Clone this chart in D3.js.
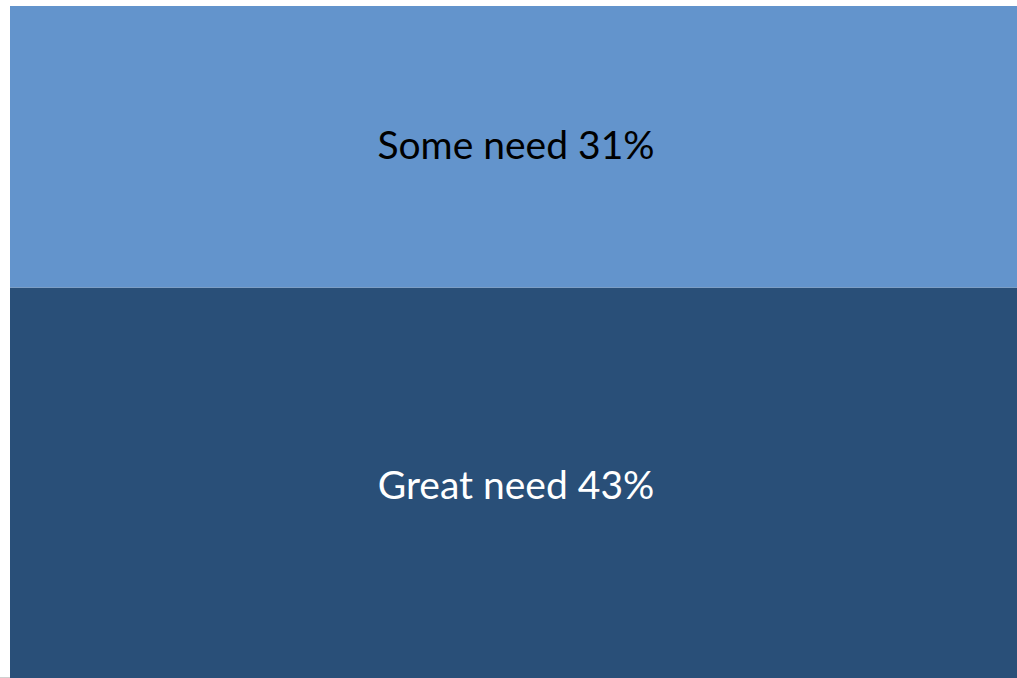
<!DOCTYPE html>
<html><head><meta charset="utf-8">
<script src="https://cdn.jsdelivr.net/npm/d3@7"></script>
<style>html,body{margin:0;padding:0;background:#fff;overflow:hidden}</style>
</head><body>
<svg id="chart" width="1017" height="678"></svg>
<script>
const categories = ["Great need", "Some need"];
const values = [43, 31];
const colors = ["#294F78", "#6394CC"];
const textColors = ["#ffffff", "#000000"];

const svg = d3.select("#chart");
const x = d3.scaleBand().domain(["All"]).range([10, 1024]).padding(0);
const total = d3.sum(values);
const y = d3.scaleLinear().domain([0, total]).range([678, 6]);

let acc = 0;
const segs = categories.map((c, i) => {
  const s = {cat: c, v: values[i], y0: acc, y1: acc + values[i], i};
  acc += values[i];
  return s;
});

svg.selectAll("rect.seg").data(segs).enter().append("rect")
  .attr("class", "seg")
  .attr("x", x("All")).attr("width", x.bandwidth())
  .attr("y", d => y(d.y1)).attr("height", d => y(d.y0) - y(d.y1))
  .attr("fill", d => colors[d.i]);

const baseOff = [16.5, 12.5];
svg.selectAll("text.lbl").data(segs).enter().append("text")
  .attr("class", "lbl")
  .attr("x", x("All") + x.bandwidth() / 2 - 1)
  .attr("y", d => (y(d.y0) + y(d.y1)) / 2 + baseOff[d.i])
  .attr("text-anchor", "middle")
  .attr("font-family", "Lato, 'Open Sans', sans-serif")
  .attr("font-size", 39)
  .attr("fill", d => textColors[d.i])
  .text(d => `${d.cat} ${d.v}%`);

svg.append("line").attr("x1", 0).attr("x2", 10).attr("y1", 677.5).attr("y2", 677.5)
  .attr("stroke", "#d0d0d0").attr("stroke-width", 1);
</script>
</body></html>
